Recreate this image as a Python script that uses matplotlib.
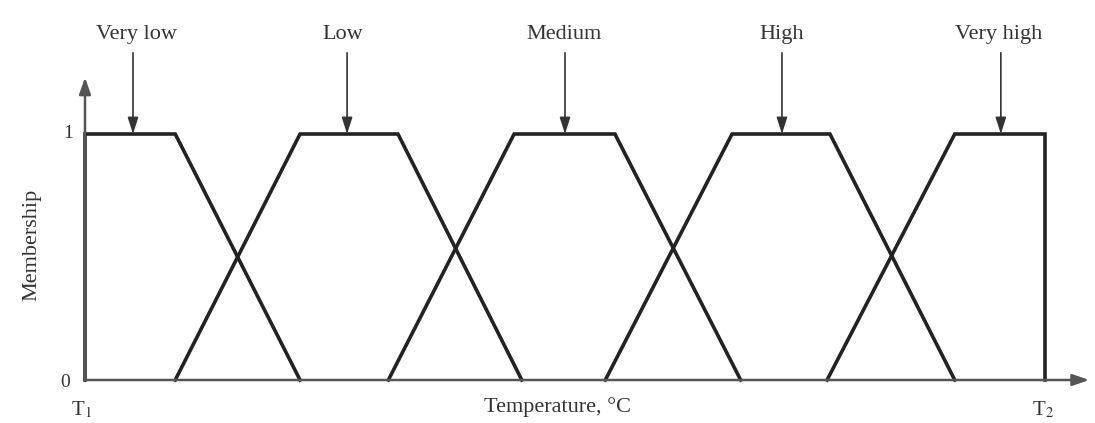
import matplotlib
matplotlib.use("Agg")
import matplotlib.pyplot as plt

plt.rcParams["mathtext.fontset"] = "stix"

# Fuzzy sets over the temperature range T1..T2 (scaled 0..100)
set_names = ["Very low", "Low", "Medium", "High", "Very high"]
very_low_x = [0, 0, 9.4, 22.4]
very_low_y = [0, 1, 1, 0]
low_x = [9.4, 22.4, 32.6, 45.5]
low_y = [0, 1, 1, 0]
medium_x = [31.6, 44.7, 55.2, 68.3]
medium_y = [0, 1, 1, 0]
high_x = [54.2, 67.4, 77.6, 90.6]
high_y = [0, 1, 1, 0]
very_high_x = [77.3, 90.6, 100, 100]
very_high_y = [0, 1, 1, 0]
label_x = [5.4, 26.8, 49.9, 72.6, 95.2]
arrow_x = [5.0, 27.3, 50.0, 72.6, 95.4]

W, H = 1095, 423
fig = plt.figure(figsize=(W / 100, H / 100), dpi=100)
fig.patch.set_facecolor("white")
x0, x1 = 85, 1045
y0, y1 = 380, 134
ax = fig.add_axes([x0 / W, (H - y0) / H, (x1 - x0) / W, (y0 - y1) / H])
ax.set_xlim(0, 100)
ax.set_ylim(0, 1)
ax.axis("off")

serif = ["Liberation Serif", "DejaVu Serif"]
line_col = "#222222"
axis_col = "#555555"
text_col = "#333333"

for xs, ys in [(very_low_x, very_low_y), (low_x, low_y), (medium_x, medium_y),
               (high_x, high_y), (very_high_x, very_high_y)]:
    ax.plot(xs, ys, color=line_col, lw=2.6, solid_joinstyle="miter", clip_on=False)

# Axes with arrow heads
ax.annotate("", xy=(104.6, 0), xytext=(0, 0),
            arrowprops=dict(arrowstyle="-|>,head_length=1.0,head_width=0.35",
                            color=axis_col, lw=1.8, shrinkA=0, shrinkB=0),
            annotation_clip=False)
ax.annotate("", xy=(0, 1.23), xytext=(0, 0),
            arrowprops=dict(arrowstyle="-|>,head_length=1.0,head_width=0.35",
                            color=axis_col, lw=1.8, shrinkA=0, shrinkB=0),
            annotation_clip=False)

# Set labels with arrows pointing at the plateaus
for name, lx, axx in zip(set_names, label_x, arrow_x):
    ax.text(lx, 1.405, name, ha="center", va="center", fontsize=16,
            family=serif, color=text_col)
    ax.annotate("", xy=(axx, 1.0), xytext=(axx, 1.33),
                arrowprops=dict(arrowstyle="-|>,head_length=1.0,head_width=0.32",
                                color=text_col, lw=1.2, shrinkA=0, shrinkB=0),
                annotation_clip=False)

# Tick labels and axis titles
ax.text(-1.8, 1.0, "1", ha="center", va="center", fontsize=14, family=serif, color=text_col)
ax.text(-2.1, -0.01, "0", ha="center", va="center", fontsize=14, family=serif, color=text_col)
ax.text(-0.4, -0.12, "T$_1$", ha="center", va="center", fontsize=15, family=serif, color=text_col)
ax.text(99.8, -0.12, "T$_2$", ha="center", va="center", fontsize=15, family=serif, color=text_col)
ax.text(49.2, -0.11, "Temperature, °C", ha="center", va="center", fontsize=16,
        family=serif, color=text_col)
ax.text(-5.5, 0.55, "Membership", ha="center", va="center", rotation=90, fontsize=16,
        family=serif, color=text_col)

fig.savefig("out.png", dpi=100, facecolor="white")
